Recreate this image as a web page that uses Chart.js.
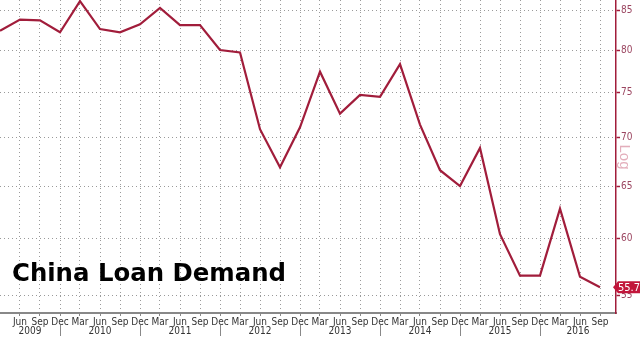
<!DOCTYPE html>
<html>
<head>
<meta charset="utf-8">
<script src="https://cdn.jsdelivr.net/npm/chart.js@4/dist/chart.umd.min.js"></script>
<style>
  body { margin: 0; background: #fff; }
  #wrap { position: relative; width: 640px; height: 341px; }
  #title {
    position: absolute; left: 12px; top: 261px;
    font: bold 24.4px "DejaVu Sans", sans-serif; line-height: 24px;
    color: #000; white-space: nowrap;
  }
</style>
</head>
<body>
<div id="wrap">
  <canvas id="myChart" width="640" height="341"></canvas>
  <div id="title">China Loan Demand</div>
</div>
<script>
// quarterly labels, Mar 2009 .. Sep 2016
const quarters = [
  'Mar 2009', 'Jun 2009', 'Sep 2009', 'Dec 2009',
  'Mar 2010', 'Jun 2010', 'Sep 2010', 'Dec 2010',
  'Mar 2011', 'Jun 2011', 'Sep 2011', 'Dec 2011',
  'Mar 2012', 'Jun 2012', 'Sep 2012', 'Dec 2012',
  'Mar 2013', 'Jun 2013', 'Sep 2013', 'Dec 2013',
  'Mar 2014', 'Jun 2014', 'Sep 2014', 'Dec 2014',
  'Mar 2015', 'Jun 2015', 'Sep 2015', 'Dec 2015',
  'Mar 2016', 'Jun 2016', 'Sep 2016'
];
const years = ['2009', '2010', '2011', '2012', '2013', '2014', '2015', '2016'];

// loan demand index
const loanDemand = [
  82.4, 83.8, 83.7, 82.2,
  86.2, 82.6, 82.2, 83.2,
  85.3, 83.1, 83.1, 80.0,
  79.7, 70.9, 66.9, 71.1,
  77.4, 72.6, 74.7, 74.5,
  78.3, 71.4, 66.6, 65.0,
  68.9, 60.4, 56.7, 56.7,
  62.8, 56.6, 55.7
];

const yTicks = [55, 60, 65, 70, 75, 80, 85];

const lineColor = '#a11d3b';

// year labels, separators, "Log" label and last value tag
const extras = {
  id: 'extras',
  afterDraw(chart) {
    const ctx = chart.ctx;
    const x = chart.scales.x;
    const y = chart.scales.y;
    const area = chart.chartArea;

    ctx.save();
    // year separators + year names
    ctx.font = '10px "DejaVu Sans Condensed", sans-serif';
    ctx.fillStyle = '#333';
    ctx.textAlign = 'center';
    ctx.textBaseline = 'middle';
    ctx.strokeStyle = '#888';
    ctx.lineWidth = 1;
    years.forEach((yr) => {
      const decIdx = quarters.indexOf('Dec ' + yr);
      const prevDec = quarters.indexOf('Dec ' + (Number(yr) - 1));
      const left = prevDec < 0 ? area.left : x.getPixelForValue(prevDec);
      const right = decIdx < 0 ? area.right : x.getPixelForValue(decIdx);
      ctx.fillText(yr, (left + right) / 2, 331);
      if (decIdx >= 0) {
        const px = Math.round(x.getPixelForValue(decIdx)) + 0.5;
        ctx.beginPath();
        ctx.moveTo(px, 325);
        ctx.lineTo(px, 336);
        ctx.stroke();
      }
    });

    // "Log" axis note
    ctx.save();
    ctx.translate(624, 157);
    ctx.rotate(Math.PI / 2);
    ctx.font = '15px "Liberation Sans", sans-serif';
    ctx.fillStyle = '#e3aebb';
    ctx.textAlign = 'center';
    ctx.textBaseline = 'middle';
    ctx.fillText('Log', 0, 0);
    ctx.restore();

    // last value tag
    const last = loanDemand[loanDemand.length - 1];
    const ty = y.getPixelForValue(last);
    const tx = area.right - 3;
    ctx.fillStyle = '#c2163b';
    ctx.beginPath();
    ctx.moveTo(tx, ty);
    ctx.lineTo(tx + 5, ty - 6);
    ctx.lineTo(640, ty - 6);
    ctx.lineTo(640, ty + 6);
    ctx.lineTo(tx + 5, ty + 6);
    ctx.closePath();
    ctx.fill();
    ctx.fillStyle = '#fff';
    ctx.font = '11px "DejaVu Sans Condensed", sans-serif';
    ctx.textAlign = 'center';
    ctx.fillText(last.toFixed(1), 629, ty + 0.5);
    ctx.restore();
  }
};

new Chart(document.getElementById('myChart'), {
  type: 'line',
  data: {
    datasets: [{
      data: loanDemand.map((v, i) => ({ x: i, y: v })),
      borderColor: lineColor,
      borderWidth: 2.2,
      pointRadius: 0,
      tension: 0,
      fill: false
    }]
  },
  options: {
    responsive: false,
    animation: false,
    devicePixelRatio: 1,
    layout: { padding: 0 },
    plugins: { legend: { display: false }, tooltip: { enabled: false } },
    scales: {
      x: {
        type: 'linear',
        min: 0,
        max: 30.8,
        afterBuildTicks: (scale) => {
          scale.ticks = quarters.map((q, i) => ({ value: i })).filter(t => t.value > 0);
        },
        afterFit: (scale) => {
          scale.height = 28;
          scale.paddingLeft = 0;
          scale.paddingRight = 0;
        },
        ticks: {
          autoSkip: false,
          maxRotation: 0,
          padding: 0,
          color: '#333',
          font: { family: '"DejaVu Sans Condensed", sans-serif', size: 10 },
          callback: (v) => quarters[v] ? quarters[v].split(' ')[0] : ''
        },
        grid: {
          color: '#9a9a9a',
          lineWidth: 1,
          tickColor: '#888',
          tickLength: 3
        },
        border: { color: '#888', width: 2, dash: [1, 3] }
      },
      y: {
        type: 'logarithmic',
        position: 'right',
        min: 53.56,
        max: 86.35,
        afterBuildTicks: (scale) => {
          scale.ticks = yTicks.map(v => ({ value: v }));
        },
        afterFit: (scale) => {
          scale.width = 24;
          scale.paddingTop = 0;
          scale.paddingBottom = 0;
        },
        ticks: {
          padding: 1,
          color: '#9b4560',
          font: { family: '"DejaVu Sans Condensed", sans-serif', size: 10 },
          callback: (v) => String(v)
        },
        grid: {
          color: '#9a9a9a',
          lineWidth: 1,
          tickColor: lineColor,
          tickWidth: 1.5,
          tickLength: 4
        },
        border: { color: lineColor, width: 1.5, dash: [1, 3] }
      }
    }
  },
  plugins: [extras]
});
</script>
</body>
</html>
